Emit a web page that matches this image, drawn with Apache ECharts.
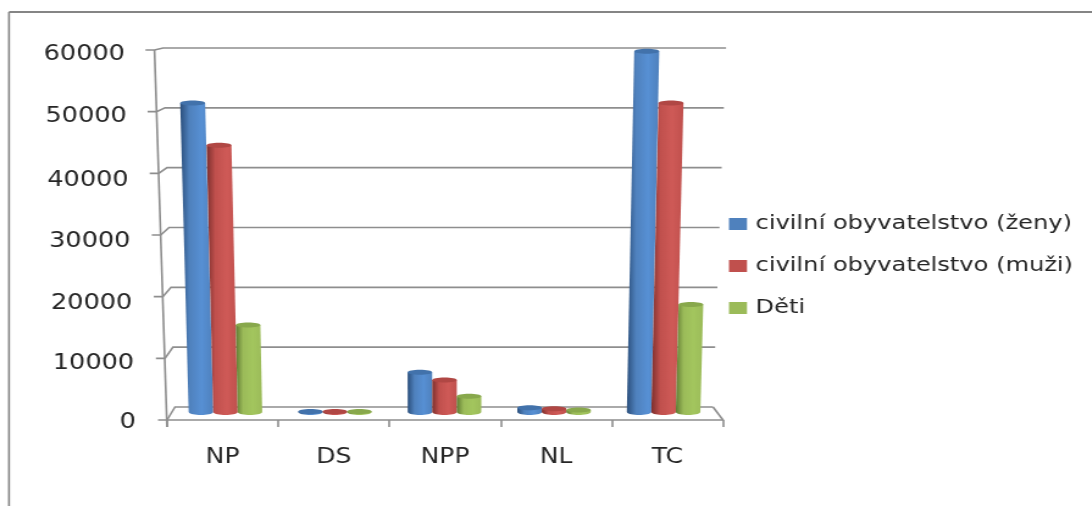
<!DOCTYPE html>
<html>
<head>
<meta charset="utf-8">
<script src="https://cdn.jsdelivr.net/npm/echarts@6/dist/echarts.min.js"></script>
<style>
html,body{margin:0;padding:0;background:#fff;width:1092px;height:506px;overflow:hidden}
#c{height:506px;transform-origin:0 0;filter:blur(0.5px)}
</style>
</head>
<body>
<div id="c"></div>
<script>
const categories = ['NP', 'DS', 'NPP', 'NL', 'TC'];
const zeny = [51200, 100, 6600, 700, 59800];
const muzi = [44200, 100, 5300, 550, 51200];
const deti = [14400, 100, 2600, 350, 17800];
const yTicks = [0, 10000, 20000, 30000, 40000, 50000, 60000];
const seriesNames = ['civilní obyvatelstvo (ženy)', 'civilní obyvatelstvo (muži)', 'Děti'];
const palette = [
  {base:'#4f81bd', dark:'#2b4f7c', light:'#5790d4', top:'#4272ab'},
  {base:'#c0504d', dark:'#7c2f2d', light:'#cf5a57', top:'#b04744'},
  {base:'#9bbb59', dark:'#5f7a32', light:'#a3c65e', top:'#88a84c'}
];

const SX = 1.22;                // the reference is stretched horizontally
const X = v => v / SX;
const el = document.getElementById('c');
el.style.width = (1092 / SX) + 'px';
el.style.transform = 'scaleX(' + SX + ')';
const chart = echarts.init(el, null, {width: 1092 / SX, height: 506});

const lerp = (a, b, t) => a + (b - a) * t;
const lineCol = '#8e8e8e';
const font = 'DejaVu Sans';
const ink = '#262626';

function wallItem(params, api) {
  const v = api.value(1);
  const t = v / 60000;
  const yB = api.coord([0, v])[1];
  const xF = X(lerp(167, 154.5, t)), yF = lerp(420, 50, t);
  const xL = X(lerp(175, 163, t)), xR = X(lerp(713, 726, t));
  return {type:'polyline', silent:true,
    shape:{points:[[xF - X(9), yF],[xF, yF],[xL, yB],[xR, yB]]},
    style:{stroke:lineCol, lineWidth:1.6, fill:null}};
}
function frameItem(params, api) {
  return {type:'group', silent:true, children:[
    {type:'line', shape:{x1:X(167), y1:427, x2:X(154.5), y2:50}, style:{stroke:lineCol, lineWidth:1.6}},
    {type:'line', shape:{x1:X(723), y1:420, x2:X(713), y2:407}, style:{stroke:lineCol, lineWidth:1.6}}
  ]};
}
function cylinder(si) {
  return function (params, api) {
    const idx = api.value(0), val = api.value(1);
    const C = X(445), W = X(24.5), RY = 3;
    const base = api.coord([idx, 0]), top = api.coord([idx, val]);
    const bx = C + (base[0] - C) * 0.985 + (si - 1) * W - X(0.5);
    const h = base[1] - top[1];
    const tx = C + (bx - C) * (1 + 0.04 * h / 365);
    const rxB = W / 2, rxT = W / 2 * (1 + 0.02 * h / 365);
    const n = 18, pts = [[tx - rxT, top[1]], [tx + rxT, top[1]]];
    for (let i = 0; i <= n; i++) {
      const a = Math.PI * i / n;
      pts.push([bx + rxB * Math.cos(a), base[1] + RY * Math.sin(a)]);
    }
    const p = palette[si];
    const grad = new echarts.graphic.LinearGradient(0, 0, 1, 0, [
      {offset:0, color:p.dark}, {offset:0.28, color:p.base},
      {offset:0.65, color:p.light}, {offset:1, color:p.base}
    ]);
    return {type:'group', silent:true, children:[
      {type:'polygon', shape:{points:pts}, style:{fill:grad}},
      {type:'ellipse', shape:{cx:tx, cy:top[1], rx:rxT, ry:RY - 0.5}, style:{fill:p.top}}
    ]};
  };
}
const toData = arr => arr.map((v, i) => [i, v]);
const labelDrop = [6, 10, 14, 14, 14, 10, 9];
const richLabels = {};
yTicks.forEach((v, i) => {
  richLabels['s' + i] = {fontFamily:font, fontSize:21, color:ink,
    padding:[labelDrop[i], X(i * 1.83), 0, 0]};
});

const gridBox = (l, r, t, b) => ({left:X(l), width:X(r - l), top:t, height:b - t});
const hiddenX = i => ({type:'category', data:categories, gridIndex:i, show:false});
const hiddenY = i => ({type:'value', min:0, max:60000, interval:10000, gridIndex:i, show:false});

chart.setOption({
  animation:false,
  backgroundColor:'#fff',
  graphic:[
    {type:'line', silent:true, shape:{x1:X(9), y1:12, x2:X(9), y2:506}, style:{stroke:'#858585', lineWidth:1.6}},
    {type:'line', silent:true, shape:{x1:X(9), y1:12, x2:1092 / SX, y2:12}, style:{stroke:'#858585', lineWidth:2}}
  ],
  legend:{
    orient:'vertical', left:X(729), top:214, padding:0, itemWidth:X(18), itemHeight:12, itemGap:22,
    selectedMode:false, icon:'rect',
    data:seriesNames,
    textStyle:{fontFamily:font, fontSize:19.8, color:ink, padding:[0,0,0,2]}
  },
  grid:[
    gridBox(167, 723, 50, 420),   // front axis
    gridBox(167, 723, 48, 407),   // back wall
    gridBox(167, 723, 50, 412)    // cylinders
  ],
  xAxis:[
    {type:'category', data:categories, gridIndex:0,
     axisLine:{show:true, lineStyle:{color:lineCol, width:1.6}},
     axisTick:{show:true, length:7, alignWithLabel:false, lineStyle:{color:lineCol, width:1.6}},
     axisLabel:{margin:27, fontFamily:font, fontSize:20.5, color:ink}},
    hiddenX(1), hiddenX(2)
  ],
  yAxis:[
    {type:'value', min:0, max:60000, interval:10000, gridIndex:0,
     splitLine:{show:false}, axisLine:{show:false}, axisTick:{show:false},
     axisLabel:{margin:X(31), rich:richLabels,
       formatter:(v) => '{s' + yTicks.indexOf(v) + '|' + v + '}'}},
    hiddenY(1), hiddenY(2)
  ],
  series:[
    {name:'wall', type:'custom', xAxisIndex:1, yAxisIndex:1, z:1, clip:false, silent:true,
     data:yTicks.map(v => [0, v]), renderItem:wallItem, encode:{x:0, y:1}},
    {name:'frame', type:'custom', xAxisIndex:1, yAxisIndex:1, z:1, clip:false, silent:true,
     data:[[0, 0]], renderItem:frameItem, encode:{x:0, y:1}},
    {name:seriesNames[0], type:'custom', xAxisIndex:2, yAxisIndex:2, z:3, clip:false,
     itemStyle:{color:palette[0].base}, data:toData(zeny), renderItem:cylinder(0), encode:{x:0, y:1}},
    {name:seriesNames[1], type:'custom', xAxisIndex:2, yAxisIndex:2, z:4, clip:false,
     itemStyle:{color:palette[1].base}, data:toData(muzi), renderItem:cylinder(1), encode:{x:0, y:1}},
    {name:seriesNames[2], type:'custom', xAxisIndex:2, yAxisIndex:2, z:5, clip:false,
     itemStyle:{color:palette[2].base}, data:toData(deti), renderItem:cylinder(2), encode:{x:0, y:1}}
  ]
});
</script>
</body>
</html>
